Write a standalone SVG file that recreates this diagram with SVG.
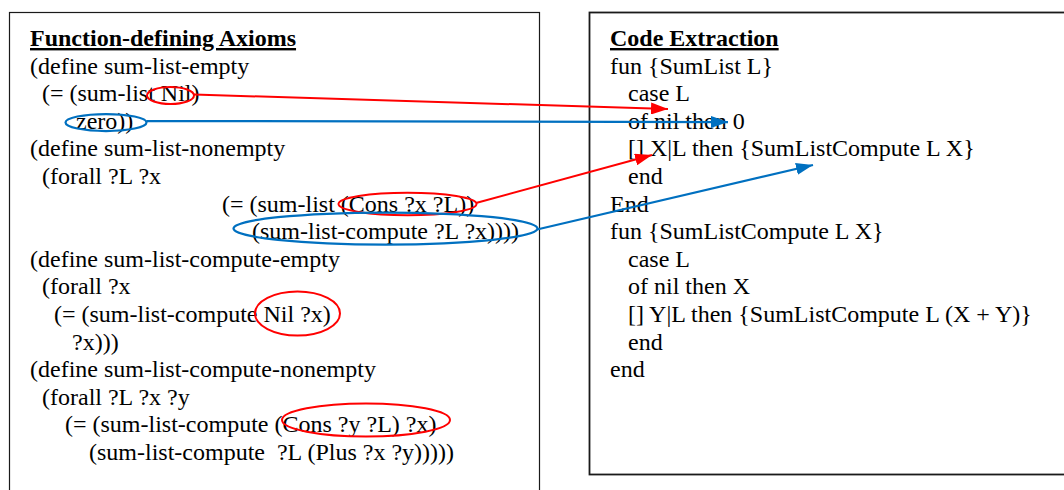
<svg xmlns="http://www.w3.org/2000/svg" width="1064" height="490" viewBox="0 0 1064 490">
  <style>
    .box { fill: #ffffff; stroke: #1a1a1a; }
    .txt { font-family: "Liberation Serif", "Times New Roman", serif; font-size: 24px; fill: #000000; white-space: pre; }
    .title { font-weight: bold; text-decoration: underline; }
    .red { fill: none; stroke: #ff0000; stroke-width: 2; }
    .blue { fill: none; stroke: #0070c0; stroke-width: 2.25; }
  </style>
  <defs>
    <marker id="arrow-red" markerUnits="userSpaceOnUse" markerWidth="17" markerHeight="12" refX="17" refY="6" orient="auto">
      <path d="M0,0 L17,6 L0,12 z" fill="#ff0000"/>
    </marker>
    <marker id="arrow-blue" markerUnits="userSpaceOnUse" markerWidth="17" markerHeight="12" refX="17" refY="6" orient="auto">
      <path d="M0,0 L17,6 L0,12 z" fill="#0070c0"/>
    </marker>
  </defs>
  <rect width="1064" height="490" fill="#ffffff"/>

  <!-- Left panel: axioms -->
  <g id="axioms">
    <rect class="box" x="9.5" y="12.5" width="530" height="500" stroke-width="1.2"/>
    <text class="txt title" x="30" y="46">Function-defining Axioms</text>
    <text class="txt" x="30" y="73.6">(define sum-list-empty</text>
    <text class="txt" x="42" y="101.2">(= (sum-list Nil)</text>
    <text class="txt" x="76" y="128.8">zero))</text>
    <text class="txt" x="30" y="156.4">(define sum-list-nonempty</text>
    <text class="txt" x="42" y="184">(forall ?L ?x</text>
    <text class="txt" x="222" y="211.6">(= (sum-list (Cons ?x ?L))</text>
    <text class="txt" x="252" y="239.2">(sum-list-compute ?L ?x))))</text>
    <text class="txt" x="30" y="266.8">(define sum-list-compute-empty</text>
    <text class="txt" x="42" y="294.4">(forall ?x</text>
    <text class="txt" x="54" y="322">(= (sum-list-compute Nil ?x)</text>
    <text class="txt" x="72" y="349.6">?x)))</text>
    <text class="txt" x="30" y="377.2">(define sum-list-compute-nonempty</text>
    <text class="txt" x="42" y="404.8">(forall ?L ?x ?y</text>
    <text class="txt" x="65" y="432.4">(= (sum-list-compute (Cons ?y ?L) ?x)</text>
    <text class="txt" x="89" y="460">(sum-list-compute  ?L (Plus ?x ?y)))))</text>
  </g>

  <!-- Right panel: extracted code -->
  <g id="code">
    <rect class="box" x="589.5" y="12.5" width="490" height="462" stroke-width="1.8"/>
    <text class="txt title" x="610" y="46">Code Extraction</text>
    <text class="txt" x="610" y="73.6">fun {SumList L}</text>
    <text class="txt" x="628" y="101.2">case L</text>
    <text class="txt" x="628" y="128.8">of nil then 0</text>
    <text class="txt" x="628" y="156.4">[] X|L then {SumListCompute L X}</text>
    <text class="txt" x="628" y="184">end</text>
    <text class="txt" x="610" y="211.6">End</text>
    <text class="txt" x="610" y="239.2">fun {SumListCompute L X}</text>
    <text class="txt" x="628" y="266.8">case L</text>
    <text class="txt" x="628" y="294.4">of nil then X</text>
    <text class="txt" x="628" y="322">[] Y|L then {SumListCompute L (X + Y)}</text>
    <text class="txt" x="628" y="349.6">end</text>
    <text class="txt" x="610" y="377.2">end</text>
  </g>

  <!-- Highlight rings on the axiom terms -->
  <g id="highlights">
    <ellipse class="red" cx="170.5" cy="95.5" rx="23.5" ry="8.5"/>
    <ellipse class="blue" cx="106" cy="122.5" rx="40.5" ry="8.5"/>
    <ellipse class="red" cx="407.5" cy="204" rx="69" ry="11.3"/>
    <ellipse class="blue" cx="385.5" cy="228.5" rx="152" ry="16"/>
    <ellipse class="red" cx="297.5" cy="313.5" rx="42.5" ry="22"/>
    <ellipse class="red" cx="366" cy="420" rx="84" ry="16.5"/>
  </g>

  <!-- Connectors from axiom terms to code -->
  <g id="connectors">
    <line class="red" x1="194" y1="94.5" x2="668" y2="109" marker-end="url(#arrow-red)"/>
    <line class="blue" x1="146.5" y1="121" x2="728" y2="122" marker-end="url(#arrow-blue)"/>
    <line class="red" x1="476" y1="203" x2="652" y2="155" marker-end="url(#arrow-red)"/>
    <line class="blue" x1="537" y1="229.5" x2="813" y2="165" marker-end="url(#arrow-blue)"/>
  </g>
</svg>
